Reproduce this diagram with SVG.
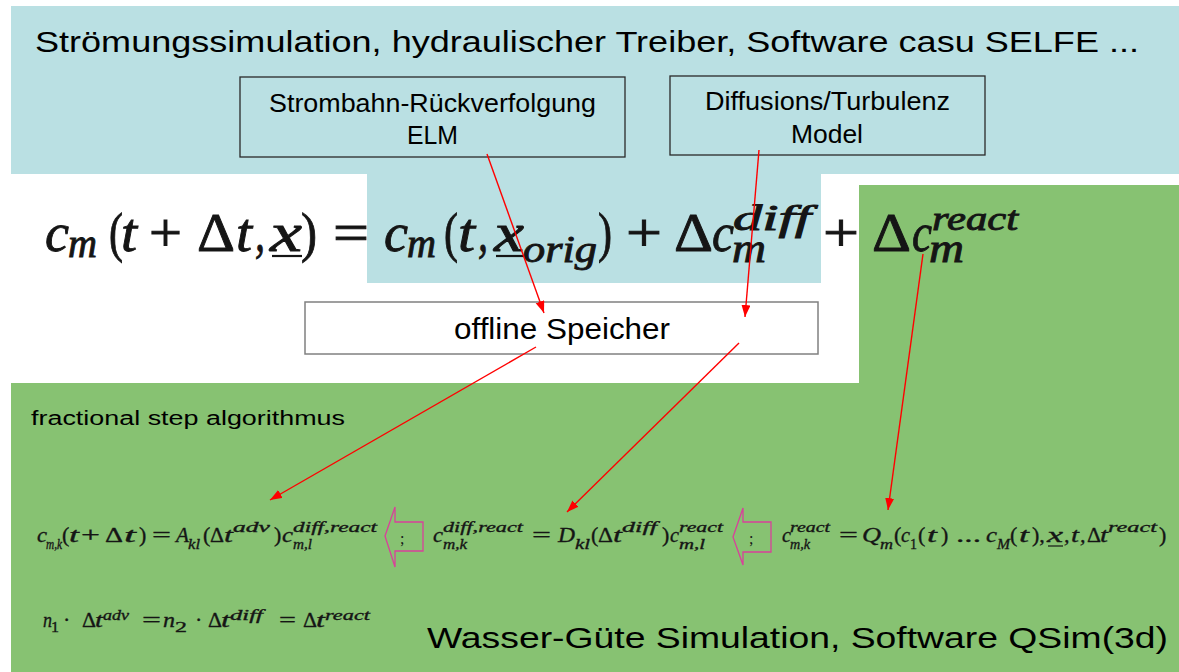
<svg xmlns="http://www.w3.org/2000/svg" width="1179" height="672" viewBox="0 0 1179 672">
<defs>
<style>
.lbl{font-family:"Liberation Sans",Arial,sans-serif;fill:#000}
.mi{font-family:"Liberation Serif","Times New Roman",serif;font-style:italic;fill:#151515}
.mu{font-family:"Liberation Serif","Times New Roman",serif;font-style:normal;fill:#151515}
.big text{stroke:#151515;stroke-width:0.9}
.sm text{stroke:#151515;stroke-width:0.35}
.box{fill:none;stroke:#2a2a2a;stroke-width:1.3}
.conn{stroke:#ff0000;stroke-width:1.4;fill:none;marker-end:url(#ah)}
.blk{fill:none;stroke:#d9409a;stroke-width:1.3}
.ul{stroke:#151515;stroke-width:2.2}
.ul2{stroke:#151515;stroke-width:1.2}
</style>
<marker id="ah" markerUnits="userSpaceOnUse" markerWidth="13" markerHeight="10" refX="12" refY="4.5" orient="auto">
<path d="M0,0 L12,4.5 L0,9 Z" fill="#ff0000"/>
</marker>
</defs>
<rect width="1179" height="672" fill="#fff"/>
<path id="bg-hydro" d="M11,6 H1179 V174 H821 V283 H367 V174 H11 Z" fill="#bae0e3"/>
<path id="bg-quality" d="M859,185 H1179 V672 H11 V383 H859 Z" fill="#87c272"/>

<text class="lbl" x="35" y="52" font-size="30" textLength="1104" lengthAdjust="spacingAndGlyphs">Strömungssimulation, hydraulischer Treiber, Software casu SELFE ...</text>
<text class="lbl" x="427" y="648" font-size="30" textLength="741" lengthAdjust="spacingAndGlyphs">Wasser-Güte Simulation, Software QSim(3d)</text>
<text class="lbl" x="31" y="425" font-size="20" textLength="314" lengthAdjust="spacingAndGlyphs">fractional step algorithmus</text>

<g id="node-elm">
<rect class="box" x="240" y="77" width="385" height="80"/>
<text class="lbl" x="269" y="112" font-size="25" textLength="327" lengthAdjust="spacingAndGlyphs">Strombahn-Rückverfolgung</text>
<text class="lbl" x="407" y="144" font-size="25" textLength="51" lengthAdjust="spacingAndGlyphs">ELM</text>
</g>
<g id="node-diff">
<rect class="box" x="670" y="76" width="315" height="79"/>
<text class="lbl" x="705" y="110" font-size="25" textLength="245" lengthAdjust="spacingAndGlyphs">Diffusions/Turbulenz</text>
<text class="lbl" x="791" y="143" font-size="25" textLength="72" lengthAdjust="spacingAndGlyphs">Model</text>
</g>
<g id="node-speicher">
<rect x="305" y="302" width="513" height="52" fill="#fff" stroke="#808080" stroke-width="1.5"/>
<text class="lbl" x="454" y="339" font-size="30" textLength="216" lengthAdjust="spacingAndGlyphs">offline Speicher</text>
</g>

<g id="eq-main" class="big">
<text class="mi" x="45" y="251" font-size="55" textLength="24" lengthAdjust="spacingAndGlyphs">c</text>
<text class="mi" x="68" y="257" font-size="40" textLength="29" lengthAdjust="spacingAndGlyphs">m</text>
<text class="mu" x="109" y="251" font-size="55" textLength="14" lengthAdjust="spacingAndGlyphs">(</text>
<text class="mi" x="121" y="251" font-size="55" textLength="16" lengthAdjust="spacingAndGlyphs">t</text>
<text class="mu" x="149" y="251" font-size="55" textLength="33" lengthAdjust="spacingAndGlyphs">+</text>
<text class="mu" x="197" y="251" font-size="55" textLength="38" lengthAdjust="spacingAndGlyphs">Δ</text>
<text class="mi" x="236" y="251" font-size="55" textLength="16" lengthAdjust="spacingAndGlyphs">t</text>
<text class="mi" x="255" y="251" font-size="55" textLength="10" lengthAdjust="spacingAndGlyphs">,</text>
<text class="mi" x="270" y="251" font-size="55" textLength="32" lengthAdjust="spacingAndGlyphs">x</text>
<line class="ul" x1="272" y1="256" x2="302" y2="256"/>
<text class="mu" x="301" y="251" font-size="55" textLength="16" lengthAdjust="spacingAndGlyphs">)</text>
<text class="mu" x="333" y="251" font-size="55" textLength="36" lengthAdjust="spacingAndGlyphs">=</text>
<text class="mi" x="384" y="251" font-size="55" textLength="24" lengthAdjust="spacingAndGlyphs">c</text>
<text class="mi" x="407" y="257" font-size="40" textLength="29" lengthAdjust="spacingAndGlyphs">m</text>
<text class="mu" x="444" y="251" font-size="55" textLength="14" lengthAdjust="spacingAndGlyphs">(</text>
<text class="mi" x="458" y="251" font-size="55" textLength="17" lengthAdjust="spacingAndGlyphs">t</text>
<text class="mi" x="478" y="251" font-size="55" textLength="10" lengthAdjust="spacingAndGlyphs">,</text>
<text class="mi" x="494" y="251" font-size="55" textLength="30" lengthAdjust="spacingAndGlyphs">x</text>
<line class="ul" x1="496" y1="256" x2="524" y2="256"/>
<text class="mi" x="523" y="262" font-size="38" textLength="74" lengthAdjust="spacingAndGlyphs">orig</text>
<text class="mu" x="598" y="251" font-size="55" textLength="14" lengthAdjust="spacingAndGlyphs">)</text>
<text class="mu" x="626" y="251" font-size="55" textLength="36" lengthAdjust="spacingAndGlyphs">+</text>
<text class="mu" x="674" y="251" font-size="55" textLength="39" lengthAdjust="spacingAndGlyphs">Δ</text>
<text class="mi" x="712" y="251" font-size="55" textLength="22" lengthAdjust="spacingAndGlyphs">c</text>
<text class="mi" x="732" y="262" font-size="40" textLength="34" lengthAdjust="spacingAndGlyphs">m</text>
<text class="mi" x="733" y="230" font-size="36" textLength="78" lengthAdjust="spacingAndGlyphs">diff</text>
<text class="mu" x="823" y="251" font-size="55" textLength="36" lengthAdjust="spacingAndGlyphs">+</text>
<text class="mu" x="872" y="251" font-size="55" textLength="39" lengthAdjust="spacingAndGlyphs">Δ</text>
<text class="mi" x="912" y="251" font-size="55" textLength="20" lengthAdjust="spacingAndGlyphs">c</text>
<text class="mi" x="929" y="262" font-size="40" textLength="35" lengthAdjust="spacingAndGlyphs">m</text>
<text class="mi" x="932" y="230" font-size="34" textLength="86" lengthAdjust="spacingAndGlyphs">react</text>
</g>

<g id="eq-adv" class="sm">
<text class="mi" x="37" y="542" font-size="22" textLength="10" lengthAdjust="spacingAndGlyphs">c</text>
<text class="mi" x="46" y="549" font-size="15" textLength="16" lengthAdjust="spacingAndGlyphs">m,k</text>
<text class="mu" x="62" y="542" font-size="22">(</text>
<text class="mi" x="69" y="542" font-size="22" textLength="10" lengthAdjust="spacingAndGlyphs">t</text>
<text class="mu" x="81" y="542" font-size="22" textLength="19" lengthAdjust="spacingAndGlyphs">+</text>
<text class="mu" x="105" y="542" font-size="22" textLength="18" lengthAdjust="spacingAndGlyphs">Δ</text>
<text class="mi" x="124" y="542" font-size="22" textLength="12" lengthAdjust="spacingAndGlyphs">t</text>
<text class="mu" x="139" y="542" font-size="22">)</text>
<text class="mu" x="152" y="542" font-size="22" textLength="19" lengthAdjust="spacingAndGlyphs">=</text>
<text class="mi" x="176" y="542" font-size="22" textLength="13" lengthAdjust="spacingAndGlyphs">A</text>
<text class="mi" x="188" y="549" font-size="15" textLength="12" lengthAdjust="spacingAndGlyphs">kl</text>
<text class="mu" x="203" y="542" font-size="22">(</text>
<text class="mu" x="210" y="542" font-size="22" textLength="14" lengthAdjust="spacingAndGlyphs">Δ</text>
<text class="mi" x="224" y="542" font-size="22" textLength="9" lengthAdjust="spacingAndGlyphs">t</text>
<text class="mi" x="233" y="532" font-size="15" textLength="37" lengthAdjust="spacingAndGlyphs">adv</text>
<text class="mu" x="274" y="542" font-size="22">)</text>
<text class="mi" x="282" y="542" font-size="22" textLength="11" lengthAdjust="spacingAndGlyphs">c</text>
<text class="mi" x="293" y="549" font-size="15" textLength="19" lengthAdjust="spacingAndGlyphs">m,l</text>
<text class="mi" x="293" y="532" font-size="15" textLength="84" lengthAdjust="spacingAndGlyphs">diff,react</text>
</g>

<g id="step-arrow-1">
<path class="blk" d="M385,536 L395,507 V522 H423 V551 H395 V567 Z"/>
<text class="mu" x="400" y="544" font-size="16">;</text>
</g>

<g id="eq-diff" class="sm">
<text class="mi" x="433" y="542" font-size="22" textLength="10" lengthAdjust="spacingAndGlyphs">c</text>
<text class="mi" x="443" y="549" font-size="15" textLength="24" lengthAdjust="spacingAndGlyphs">m,k</text>
<text class="mi" x="443" y="532" font-size="15" textLength="80" lengthAdjust="spacingAndGlyphs">diff,react</text>
<text class="mu" x="532" y="542" font-size="22" textLength="19" lengthAdjust="spacingAndGlyphs">=</text>
<text class="mi" x="558" y="542" font-size="22" textLength="17" lengthAdjust="spacingAndGlyphs">D</text>
<text class="mi" x="575" y="549" font-size="15" textLength="15" lengthAdjust="spacingAndGlyphs">kl</text>
<text class="mu" x="591" y="542" font-size="22">(</text>
<text class="mu" x="598" y="542" font-size="22" textLength="15" lengthAdjust="spacingAndGlyphs">Δ</text>
<text class="mi" x="613" y="542" font-size="22" textLength="9" lengthAdjust="spacingAndGlyphs">t</text>
<text class="mi" x="622" y="532" font-size="15" textLength="35" lengthAdjust="spacingAndGlyphs">diff</text>
<text class="mu" x="662" y="542" font-size="22">)</text>
<text class="mi" x="670" y="542" font-size="22" textLength="9" lengthAdjust="spacingAndGlyphs">c</text>
<text class="mi" x="679" y="549" font-size="15" textLength="26" lengthAdjust="spacingAndGlyphs">m,l</text>
<text class="mi" x="679" y="532" font-size="15" textLength="44" lengthAdjust="spacingAndGlyphs">react</text>
</g>

<g id="step-arrow-2">
<path class="blk" d="M733,537 L743,508 V522 H771 V552 H743 V565 Z"/>
<text class="mu" x="749" y="544" font-size="16">;</text>
</g>

<g id="eq-react" class="sm">
<text class="mi" x="782" y="542" font-size="22" textLength="9" lengthAdjust="spacingAndGlyphs">c</text>
<text class="mi" x="790" y="549" font-size="15" textLength="20" lengthAdjust="spacingAndGlyphs">m,k</text>
<text class="mi" x="790" y="532" font-size="15" textLength="40" lengthAdjust="spacingAndGlyphs">react</text>
<text class="mu" x="839" y="542" font-size="22" textLength="19" lengthAdjust="spacingAndGlyphs">=</text>
<text class="mi" x="862" y="542" font-size="22" textLength="19" lengthAdjust="spacingAndGlyphs">Q</text>
<text class="mi" x="880" y="549" font-size="15" textLength="13" lengthAdjust="spacingAndGlyphs">m</text>
<text class="mu" x="894" y="542" font-size="22">(</text>
<text class="mi" x="901" y="542" font-size="22" textLength="9" lengthAdjust="spacingAndGlyphs">c</text>
<text class="mu" x="910" y="549" font-size="15" textLength="7" lengthAdjust="spacingAndGlyphs">1</text>
<text class="mu" x="918" y="542" font-size="22">(</text>
<text class="mi" x="927" y="542" font-size="22" textLength="10" lengthAdjust="spacingAndGlyphs">t</text>
<text class="mu" x="941" y="542" font-size="22">)</text>
<text class="mu" x="956" y="542" font-size="22" textLength="25" lengthAdjust="spacingAndGlyphs">...</text>
<text class="mi" x="986" y="542" font-size="22" textLength="11" lengthAdjust="spacingAndGlyphs">c</text>
<text class="mi" x="997" y="549" font-size="15" textLength="13" lengthAdjust="spacingAndGlyphs">M</text>
<text class="mu" x="1010" y="542" font-size="22">(</text>
<text class="mi" x="1019" y="542" font-size="22" textLength="10" lengthAdjust="spacingAndGlyphs">t</text>
<text class="mu" x="1032" y="542" font-size="22">),</text>
<text class="mi" x="1047" y="542" font-size="22" textLength="16" lengthAdjust="spacingAndGlyphs">x</text>
<line class="ul2" x1="1048" y1="546" x2="1063" y2="546"/>
<text class="mi" x="1064" y="542" font-size="22">,</text>
<text class="mi" x="1071" y="542" font-size="22" textLength="8" lengthAdjust="spacingAndGlyphs">t</text>
<text class="mi" x="1080" y="542" font-size="22">,</text>
<text class="mu" x="1087" y="542" font-size="22" textLength="14" lengthAdjust="spacingAndGlyphs">Δ</text>
<text class="mi" x="1100" y="542" font-size="22" textLength="8" lengthAdjust="spacingAndGlyphs">t</text>
<text class="mi" x="1108" y="532" font-size="15" textLength="49" lengthAdjust="spacingAndGlyphs">react</text>
<text class="mu" x="1159" y="542" font-size="22">)</text>
</g>

<g id="eq-steps" class="sm">
<text class="mi" x="43" y="627" font-size="22" textLength="9" lengthAdjust="spacingAndGlyphs">n</text>
<text class="mu" x="51" y="632" font-size="15" textLength="8" lengthAdjust="spacingAndGlyphs">1</text>
<text class="mu" x="63" y="627" font-size="22">·</text>
<text class="mu" x="82" y="627" font-size="22" textLength="14" lengthAdjust="spacingAndGlyphs">Δ</text>
<text class="mi" x="95" y="627" font-size="22" textLength="8" lengthAdjust="spacingAndGlyphs">t</text>
<text class="mi" x="103" y="620" font-size="15" textLength="26" lengthAdjust="spacingAndGlyphs">adv</text>
<text class="mu" x="142" y="627" font-size="22" textLength="19" lengthAdjust="spacingAndGlyphs">=</text>
<text class="mi" x="163" y="627" font-size="22" textLength="12" lengthAdjust="spacingAndGlyphs">n</text>
<text class="mu" x="175" y="632" font-size="15" textLength="12" lengthAdjust="spacingAndGlyphs">2</text>
<text class="mu" x="195" y="627" font-size="22">·</text>
<text class="mu" x="208" y="627" font-size="22" textLength="14" lengthAdjust="spacingAndGlyphs">Δ</text>
<text class="mi" x="221" y="627" font-size="22" textLength="9" lengthAdjust="spacingAndGlyphs">t</text>
<text class="mi" x="230" y="620" font-size="15" textLength="33" lengthAdjust="spacingAndGlyphs">diff</text>
<text class="mu" x="279" y="627" font-size="22" textLength="17" lengthAdjust="spacingAndGlyphs">=</text>
<text class="mu" x="303" y="627" font-size="22" textLength="14" lengthAdjust="spacingAndGlyphs">Δ</text>
<text class="mi" x="316" y="627" font-size="22" textLength="9" lengthAdjust="spacingAndGlyphs">t</text>
<text class="mi" x="325" y="620" font-size="15" textLength="45" lengthAdjust="spacingAndGlyphs">react</text>
</g>

<g id="connectors">
<line class="conn" x1="487" y1="154" x2="544" y2="313"/>
<line class="conn" x1="759" y1="150" x2="745" y2="317"/>
<line class="conn" x1="923" y1="254" x2="888" y2="510"/>
<line class="conn" x1="536" y1="347" x2="270" y2="500"/>
<line class="conn" x1="739" y1="343" x2="567" y2="512"/>
</g>
</svg>
